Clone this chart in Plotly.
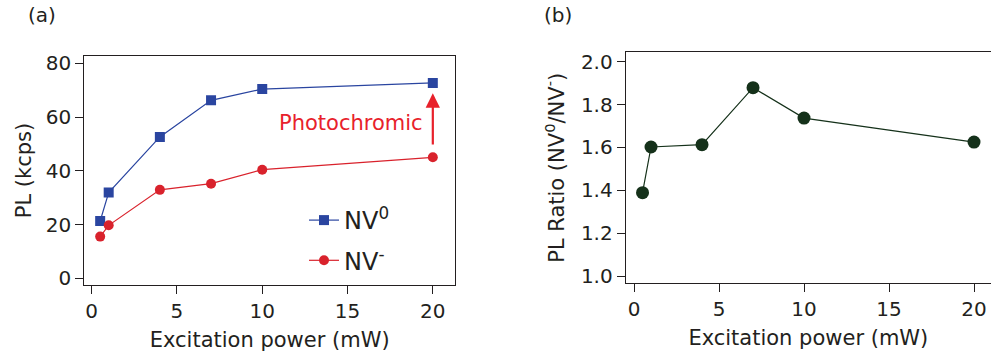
import plotly.graph_objects as go

# Excitation power (mW)
power = [0.5, 1, 4, 7, 10, 20]
# PL count rates (kcps)
pl_nv0 = [21.3, 31.9, 52.6, 66.2, 70.4, 72.7]
pl_nvm = [15.5, 19.7, 32.9, 35.2, 40.4, 45.0]
# PL ratio NV0 / NV-
pl_ratio = [1.389, 1.602, 1.613, 1.879, 1.737, 1.625]

x_ticks = [0, 5, 10, 15, 20]
y_ticks_a = [0, 20, 40, 60, 80]
y_ticks_b = [1.0, 1.2, 1.4, 1.6, 1.8, 2.0]

BLUE = "#2a45a0"
RED = "#d9222c"
GREEN = "#15311a"
INK = "#231f20"
FONT = "DejaVu Sans"

W, H = 991, 359


def px_x(p):
    return p / W


def px_y(p):
    return 1 - p / H


fig = go.Figure()

fig.add_trace(go.Scatter(
    x=power, y=pl_nv0, mode="lines+markers", name="NV<sup>0</sup>",
    line=dict(color=BLUE, width=1.2),
    marker=dict(symbol="square", size=10, color=BLUE),
    xaxis="x", yaxis="y", legendgroup="a",
))
fig.add_trace(go.Scatter(
    x=power, y=pl_nvm, mode="lines+markers", name="NV<sup>-</sup>",
    line=dict(color=RED, width=1.2),
    marker=dict(symbol="circle", size=10, color=RED),
    xaxis="x", yaxis="y", legendgroup="b",
))
fig.add_trace(go.Scatter(
    x=power, y=pl_ratio, mode="lines+markers", showlegend=False,
    line=dict(color=GREEN, width=1.2),
    marker=dict(symbol="circle", size=13, color=GREEN),
    xaxis="x2", yaxis="y2",
))

axis_common = dict(
    showgrid=False, zeroline=False, showline=True, linecolor=INK, linewidth=1,
    ticks="outside", ticklen=8, tickcolor=INK, tickwidth=1,
    tickfont=dict(family=FONT, size=20, color=INK),
    automargin=False,
)
title_font = dict(family=FONT, size=21, color=INK)

fig.update_layout(
    width=W, height=H,
    margin=dict(l=0, r=0, t=0, b=0),
    paper_bgcolor="white", plot_bgcolor="white",
    font=dict(family=FONT, color=INK),
    xaxis=dict(
        domain=[px_x(84.3), px_x(455)], range=[-0.43, 21.3],
        tickvals=x_ticks, mirror=True, anchor="y",
        title=dict(text="Excitation power (mW)", font=title_font, standoff=10),
        **axis_common,
    ),
    yaxis=dict(
        domain=[px_y(285), px_y(56)], range=[-2.5, 82.7],
        tickvals=y_ticks_a, mirror=True, anchor="x",
        title=dict(text="PL (kcps)", font=title_font, standoff=8),
        **axis_common,
    ),
    xaxis2=dict(
        domain=[px_x(625.7), 1.0], range=[-0.49, 21.0],
        tickvals=x_ticks, mirror=True, anchor="y2",
        title=dict(text="Excitation power (mW)", font=title_font, standoff=10),
        **axis_common,
    ),
    yaxis2=dict(
        domain=[px_y(283.3), px_y(52.3)], range=[0.966, 2.044],
        tickvals=y_ticks_b, tickformat=".1f", mirror=False, anchor="x2",
        title=dict(text="PL Ratio (NV<sup>0</sup>/NV<sup>-</sup>)", font=title_font, standoff=10),
        **axis_common,
    ),
    legend=dict(
        x=px_x(304), y=px_y(198), xanchor="left", yanchor="top",
        bgcolor="rgba(0,0,0,0)", borderwidth=0,
        font=dict(family=FONT, size=24, color=INK),
        tracegroupgap=6, itemwidth=30,
    ),
    showlegend=True,
)

# Photochromic conversion arrow between the two curves at 20 mW
fig.add_annotation(
    x=20, y=68.8, ax=20, ay=49.2, xref="x", yref="y", axref="x", ayref="y",
    showarrow=True, arrowhead=2, arrowsize=1.3, arrowwidth=2.2, arrowcolor="#e8212b",
    text="",
)
fig.add_annotation(
    x=px_x(425), y=px_y(123), xref="paper", yref="paper", xanchor="right", yanchor="middle",
    text="Photochromic", showarrow=False,
    font=dict(family=FONT, size=21, color="#e8212b"),
)

# Panel labels
fig.add_annotation(x=px_x(26), y=px_y(15), xref="paper", yref="paper",
                   xanchor="left", yanchor="middle", text="(a)", showarrow=False,
                   font=dict(family=FONT, size=20, color=INK))
fig.add_annotation(x=px_x(542), y=px_y(15), xref="paper", yref="paper",
                   xanchor="left", yanchor="middle", text="(b)", showarrow=False,
                   font=dict(family=FONT, size=20, color=INK))

fig.write_html("out.html")
